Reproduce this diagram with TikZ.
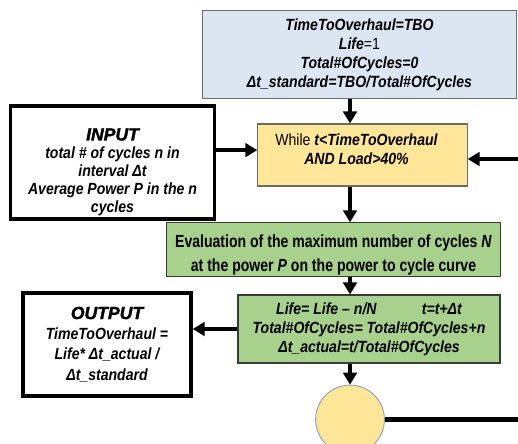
\documentclass[tikz,border=0pt]{standalone}
\usepackage{fontspec}
\setmainfont{Liberation Sans}[FakeStretch=0.87]
\newfontfamily\tallfont{Liberation Sans}[FakeStretch=0.8]
\newfontfamily\headfont{Liberation Sans Bold Italic}[FakeBold=1.8]
\usetikzlibrary{arrows.meta}
\definecolor{boxblue}{HTML}{DCE6F2}
\definecolor{boxyellow}{HTML}{FFE699}
\definecolor{boxgreen}{HTML}{A9D18E}
\definecolor{rimgrey}{HTML}{6B6B6B}
\definecolor{rimdark}{HTML}{3A3A3A}
\definecolor{rimblue}{HTML}{7F9DB9}
\tikzset{>={Triangle[length=3mm,width=3.4mm]}}
\tikzset{stepbox/.style={draw=rimgrey, line width=0.8pt, inner sep=0pt, align=center}}
\tikzset{iobox/.style={draw=black, line width=2.4pt, inner sep=0pt, align=center}}
\tikzset{flow/.style={->, line width=2.6pt}}

\begin{document}
\begin{tikzpicture}[x=0.025cm, y=-0.025cm]
        \useasboundingbox (0,0) rectangle (518,443);

                    \node[stepbox, fill=boxblue, minimum width=7.83cm, minimum height=2.18cm, font=\bfseries\itshape\fontsize{11.5}{13.6}\selectfont] (init) at (359.5,54.5) {TimeToOverhaul=TBO\\ Life{\mdseries\upshape=1}\\ Total\#OfCycles=0\\ Δt\_standard=TBO/Total\#OfCycles};
                    \node[iobox, minimum width=5.1cm, minimum height=2.82cm, font=\bfseries\itshape\fontsize{11.5}{12.8}\selectfont] (input) at (112.5,162.5) {\rule{0pt}{0.78cm}{\headfont\mdseries\upshape\fontsize{12.5}{15}\selectfont INPUT}\\ total \# of cycles n in\\ interval Δt\\ Average Power P in the n\\ cycles};
                    \node[stepbox, fill=boxyellow, minimum width=5.23cm, minimum height=1.55cm, font=\bfseries\itshape\fontsize{11.5}{14}\selectfont] (loop) at (362.5,155) {{\mdseries\upshape While} t<TimeToOverhaul\hspace*{0.3cm}\\ AND Load>40\%\hspace*{0.3cm}\rule[-0.3cm]{0pt}{0pt}};
                    \node[stepbox, draw=rimdark, fill=boxgreen, minimum width=8.33cm, minimum height=1.33cm, font=\tallfont\bfseries\fontsize{12.5}{17}\selectfont] (eval) at (333.5,249.5) {\rule{0pt}{0.6cm}Evaluation of the maximum number of cycles \textit{N}\\ at the power \textit{P} on the power to cycle curve};
                    \node[stepbox, draw=rimdark, fill=boxgreen, minimum width=6.55cm, minimum height=1.7cm, font=\bfseries\itshape\fontsize{11.5}{13.6}\selectfont] (update) at (369,329) {Life= Life – n/N\hspace{2.8em}t=t+Δt\\ Total\#OfCycles= Total\#OfCycles+n\\ Δt\_actual=t/Total\#OfCycles};
                    \node[iobox, minimum width=4.2cm, minimum height=2.58cm, font=\bfseries\itshape\fontsize{11.5}{14.5}\selectfont] (output) at (107,344.5) {{\headfont\mdseries\upshape\fontsize{12.5}{15}\selectfont OUTPUT}\\ TimeToOverhaul =\\ Life* Δt\_actual /\\ Δt\_standard};
                    \node[shape=circle, draw=rimblue, fill=boxyellow, line width=0.6pt, minimum size=1.72cm, inner sep=0pt] (end) at (350,419.5) {};
                    \coordinate (back) at (518,159);

                    \draw[flow] (init.south -| end) -- (loop.north -| end);
                    \draw[flow] ([yshift=0.31cm]input.east) -- ([yshift=0.31cm]input.east -| loop.west);
                    \draw[flow] (back) -- (back -| loop.east);
                    \draw[flow] (loop.south -| end) -- (eval.north -| end);
                    \draw[flow] (eval.south -| end) -- (update.north -| end);
                    \draw[flow] (update.west) -- (update.west -| output.east);
                    \draw[flow] (update.south -| end) -- (end.north);
                    \draw[line width=3pt] (end.east) -- (end.east -| back);

                \end{tikzpicture}
\end{document}
